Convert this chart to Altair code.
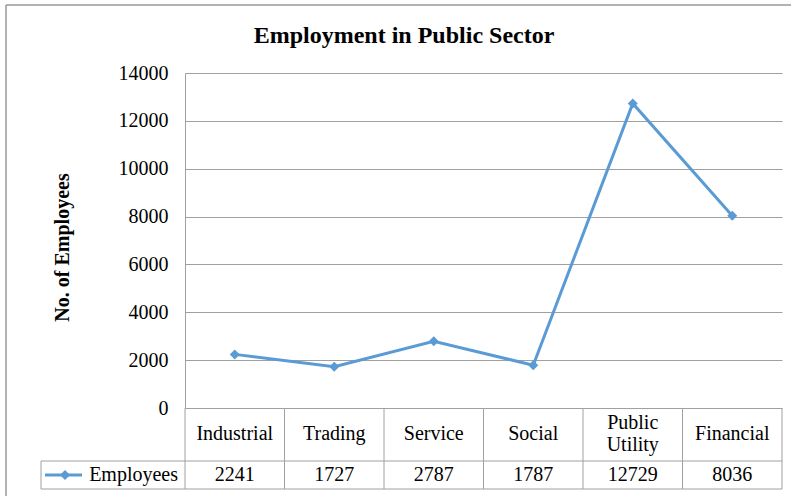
import altair as alt
import pandas as pd

categories = ["Industrial", "Trading", "Service", "Social", "Public Utility", "Financial"]
header_labels = ["Industrial", "Trading", "Service", "Social", "Public\nUtility", "Financial"]
employees = [2241, 1727, 2787, 1787, 12729, 8036]
series_name = "Employees"
chart_title = "Employment in Public Sector"
y_title = "No. of Employees"
y_ticks = [0, 2000, 4000, 6000, 8000, 10000, 12000, 14000]

FONT = "Liberation Serif"
BLUE = "#5B9BD5"
GRID = "#a0a0a0"

W, H = 597, 335

df = pd.DataFrame({
    "category": categories,
    "header": header_labels,
    "value": employees,
    "pos": [i + 0.5 for i in range(len(categories))],
})
df["multi"] = df["header"].str.contains("\n")
bounds = pd.DataFrame({"b": list(range(len(categories) + 1))})
one = pd.DataFrame({"k": [0]})

xs = alt.Scale(domain=[0, len(categories)], nice=False, zero=False)
ys = alt.Scale(domain=[0, 14000], nice=False)

line = alt.Chart(df).mark_line(
    color=BLUE, strokeWidth=3,
    point=alt.OverlayMarkDef(shape="diamond", size=100, filled=True, color=BLUE),
).encode(
    x=alt.X("pos:Q", scale=xs, axis=None),
    y=alt.Y("value:Q", scale=ys, axis=alt.Axis(
        values=y_ticks, format="d", title=y_title, grid=True, gridColor=GRID,
        gridWidth=1, domain=True, domainColor=GRID, ticks=False,
        labelFont=FONT, labelFontSize=20, labelColor="black", labelPadding=17,
        titleFont=FONT, titleFontSize=20, titleFontWeight="bold", titleColor="black",
        titleX=-123, titleY=174, titleAngle=-90, titleAlign="center", titleBaseline="middle",
    )),
)

vlines = alt.Chart(bounds).mark_rule(color=GRID, strokeWidth=1).encode(
    x=alt.X("b:Q", scale=xs, axis=None),
    y=alt.value(H), y2=alt.value(416),
)

hline_mid = alt.Chart(one).mark_rule(color=GRID, strokeWidth=1).encode(
    x=alt.value(-144), x2=alt.value(W), y=alt.value(388))
hline_bot = alt.Chart(one).mark_rule(color=GRID, strokeWidth=1).encode(
    x=alt.value(-144), x2=alt.value(W), y=alt.value(416))
vline_left = alt.Chart(one).mark_rule(color=GRID, strokeWidth=1).encode(
    x=alt.value(-144), y=alt.value(388), y2=alt.value(416))

header_single = alt.Chart(df).mark_text(
    font=FONT, fontSize=20, color="black", align="center", baseline="middle",
).encode(
    x=alt.X("pos:Q", scale=xs, axis=None),
    y=alt.value(361),
    text="header:N",
).transform_filter("!datum.multi")

header_multi = alt.Chart(df).mark_text(
    font=FONT, fontSize=20, color="black", lineBreak="\n", lineHeight=22,
    align="center", baseline="middle",
).encode(
    x=alt.X("pos:Q", scale=xs, axis=None),
    y=alt.value(350),
    text="header:N",
).transform_filter("datum.multi")

values_txt = alt.Chart(df).mark_text(
    font=FONT, fontSize=20, color="black", align="center", baseline="middle",
).encode(
    x=alt.X("pos:Q", scale=xs, axis=None),
    y=alt.value(402),
    text="value:Q",
)

leg_line = alt.Chart(one).mark_rule(color=BLUE, strokeWidth=3).encode(
    x=alt.value(-140), x2=alt.value(-103), y=alt.value(402))
leg_pt = alt.Chart(one).mark_point(shape="diamond", size=100, filled=True, color=BLUE, opacity=1).encode(
    x=alt.value(-120), y=alt.value(402))
leg_txt = alt.Chart(one).mark_text(
    font=FONT, fontSize=20, color="black", align="right", baseline="middle",
).encode(x=alt.value(-7), y=alt.value(402), text=alt.value(series_name))

title = alt.Chart(one).mark_text(
    font=FONT, fontSize=24, fontWeight="bold", color="black",
    align="center", baseline="middle",
).encode(x=alt.value(219), y=alt.value(-37), text=alt.value(chart_title))

border_left = alt.Chart(one).mark_rule(color="#999999", strokeWidth=1.5).encode(
    x=alt.value(-179), y=alt.value(-68), y2=alt.value(430))
border_top = alt.Chart(one).mark_rule(color="#999999", strokeWidth=1.5).encode(
    x=alt.value(-179), x2=alt.value(620), y=alt.value(-68))

chart = alt.layer(
    vlines, hline_mid, hline_bot, vline_left, line, header_single, header_multi,
    values_txt, leg_line, leg_pt, leg_txt, title, border_left, border_top,
).properties(
    width=W, height=H,
    autosize=alt.AutoSizeParams(type="none"),
    padding={"left": 185, "top": 73, "right": 9, "bottom": 88},
    background="white",
).configure_view(strokeWidth=0)

chart.save("out.html", embed_options={"renderer": "svg", "actions": False})
